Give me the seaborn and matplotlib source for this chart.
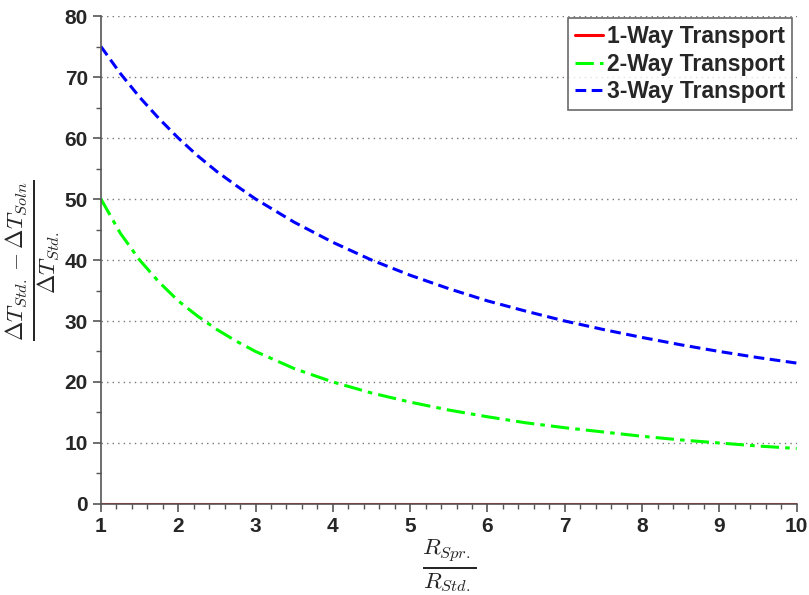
import numpy as np
import pandas as pd
import matplotlib
matplotlib.use('Agg')
import matplotlib.pyplot as plt
import seaborn as sns
from matplotlib.ticker import MultipleLocator

# Values
ratio = [1.0, 1.25, 1.5, 1.75, 2.0, 2.25, 2.5, 2.75, 3.0, 3.5, 4.0, 4.5, 5.0, 5.5,
         6.0, 6.5, 7.0, 7.5, 8.0, 8.5, 9.0, 9.5, 10.0]
one_way = [0.0] * 23
two_way = [50.0, 44.4, 40.0, 36.4, 33.3, 30.8, 28.6, 26.7, 25.0, 22.2, 20.0, 18.2,
           16.7, 15.4, 14.3, 13.3, 12.5, 11.8, 11.1, 10.5, 10.0, 9.5, 9.1]
three_way = [75.0, 70.6, 66.7, 63.2, 60.0, 57.1, 54.5, 52.2, 50.0, 46.2, 42.9, 40.0,
             37.5, 35.3, 33.3, 31.6, 30.0, 28.6, 27.3, 26.1, 25.0, 24.0, 23.1]
labels = ['1-Way Transport', '2-Way Transport', '3-Way Transport']

df = pd.DataFrame({'ratio': ratio, labels[0]: one_way,
                   labels[1]: two_way, labels[2]: three_way})
long = df.melt(id_vars='ratio', var_name='mode', value_name='dT')

sns.set_style('white')
plt.rcParams['font.family'] = ['Liberation Sans', 'DejaVu Sans']
plt.rcParams['font.weight'] = 'bold'
plt.rcParams['mathtext.fontset'] = 'cm'

fig = plt.figure(figsize=(8.09, 5.95), dpi=100)
ax = fig.add_axes([0.1248, 0.153, 0.860, 0.820])

colors = ['#ff0000', '#00ff00', '#0000ff']
styles = ['-', (0, (6, 2, 1.5, 2)), (0, (3.5, 1.8))]
for lab, c, ls in zip(labels, colors, styles):
    sns.lineplot(data=long[long['mode'] == lab], x='ratio', y='dT', ax=ax,
                 color=c, linestyle=ls, linewidth=2.2, label=lab)

ax.set_xlim(1, 10)
ax.set_ylim(0, 80)
ax.xaxis.set_major_locator(MultipleLocator(1))
ax.xaxis.set_minor_locator(MultipleLocator(0.2))
ax.yaxis.set_major_locator(MultipleLocator(10))
ax.yaxis.set_minor_locator(MultipleLocator(5))
ax.tick_params(which='major', direction='out', length=6, width=1.2,
               color='#555555', labelsize=15, bottom=True, left=True)
ax.tick_params(which='minor', direction='out', length=3.5, width=1,
               color='#555555', bottom=True, left=True)
for t in ax.get_xticklabels() + ax.get_yticklabels():
    t.set_fontweight('bold')

ax.grid(axis='y', which='major', linestyle=(0, (1, 3)), color='#777777', linewidth=1)
ax.spines['top'].set_visible(False)
ax.spines['right'].set_visible(False)
ax.spines['left'].set_color('#555555')
ax.spines['bottom'].set_color('#555555')
ax.spines['left'].set_linewidth(1.2)
ax.spines['bottom'].set_linewidth(1.2)

ax.set_xlabel(r'$\frac{R_{Spr.}}{R_{Std.}}$', fontsize=24, labelpad=0)
ax.set_ylabel(r'$\frac{\Delta T_{Std.} - \Delta T_{Soln}}{\Delta T_{Std.}}$',
              fontsize=24, labelpad=2)

leg = ax.legend(loc='upper right', bbox_to_anchor=(1.0, 1.005), frameon=True,
                fancybox=False, edgecolor='#444444', handlelength=1.2,
                handletextpad=0.2, borderpad=0.3, labelspacing=0.2,
                borderaxespad=0.2, prop={'weight': 'bold', 'size': 16.5})
leg.get_frame().set_linewidth(1.2)

fig.savefig('out.png', dpi=100)
